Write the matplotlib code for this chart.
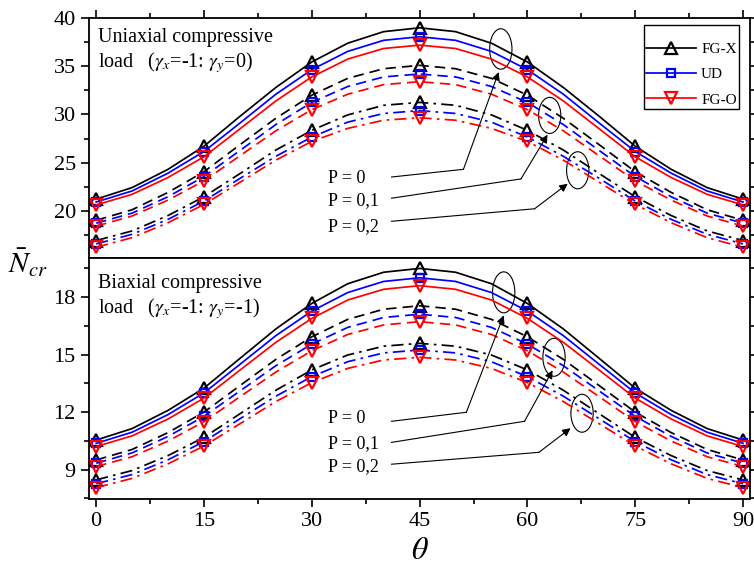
import numpy as np
import matplotlib
matplotlib.use('Agg')
import matplotlib.pyplot as plt
from matplotlib.patches import Ellipse
from matplotlib.ticker import MultipleLocator

plt.rcParams['font.family'] = ['Liberation Serif', 'DejaVu Serif']
plt.rcParams['mathtext.fontset'] = 'stix'

# %% data
theta = [0, 5, 10, 15, 20, 25, 30, 35, 40, 45, 50, 55, 60, 65, 70, 75, 80, 85, 90]

# uniaxial (gamma_x=-1, gamma_y=0)
ux_fgx_p0 = [21.2, 22.4, 24.3, 26.7, 29.8, 32.8, 35.45, 37.4, 38.6, 39.0, 38.6, 37.4, 35.45, 32.8, 29.8, 26.7, 24.3, 22.4, 21.2]
ux_ud_p0 = [20.9, 22.05, 23.9, 26.15, 29.1, 32.1, 34.65, 36.55, 37.7, 38.07, 37.7, 36.55, 34.65, 32.1, 29.1, 26.15, 23.9, 22.05, 20.9]
ux_fgo_p0 = [20.6, 21.7, 23.45, 25.6, 28.5, 31.4, 33.9, 35.75, 36.85, 37.2, 36.85, 35.75, 33.9, 31.4, 28.5, 25.6, 23.45, 21.7, 20.6]
ux_fgx_p1 = [19.0, 20.1, 21.9, 24.05, 26.85, 29.6, 32.0, 33.75, 34.75, 35.1, 34.75, 33.75, 32.0, 29.6, 26.85, 24.05, 21.9, 20.1, 19.0]
ux_ud_p1 = [18.7, 19.75, 21.45, 23.55, 26.25, 28.95, 31.25, 32.9, 33.9, 34.2, 33.9, 32.9, 31.25, 28.95, 26.25, 23.55, 21.45, 19.75, 18.7]
ux_fgo_p1 = [18.4, 19.45, 21.1, 23.1, 25.7, 28.3, 30.5, 32.1, 33.1, 33.4, 33.1, 32.1, 30.5, 28.3, 25.7, 23.1, 21.1, 19.45, 18.4]
ux_fgx_p2 = [16.9, 17.9, 19.5, 21.45, 23.85, 26.3, 28.35, 29.95, 30.95, 31.25, 30.95, 29.95, 28.35, 26.3, 23.85, 21.45, 19.5, 17.9, 16.9]
ux_ud_p2 = [16.55, 17.55, 19.1, 21.0, 23.35, 25.65, 27.65, 29.2, 30.1, 30.4, 30.1, 29.2, 27.65, 25.65, 23.35, 21.0, 19.1, 17.55, 16.55]
ux_fgo_p2 = [16.2, 17.2, 18.75, 20.65, 22.95, 25.25, 27.2, 28.55, 29.4, 29.65, 29.4, 28.55, 27.2, 25.25, 22.95, 20.65, 18.75, 17.2, 16.2]

# biaxial (gamma_x=-1, gamma_y=-1)
bx_fgx_p0 = [10.54, 11.14, 12.09, 13.25, 14.8, 16.34, 17.67, 18.7, 19.3, 19.5, 19.3, 18.7, 17.67, 16.34, 14.8, 13.25, 12.09, 11.14, 10.54]
bx_ud_p0 = [10.37, 10.95, 11.87, 13.0, 14.49, 15.99, 17.27, 18.24, 18.82, 19.01, 18.82, 18.24, 17.27, 15.99, 14.49, 13.0, 11.87, 10.95, 10.37]
bx_fgo_p0 = [10.2, 10.76, 11.64, 12.73, 14.19, 15.64, 16.89, 17.85, 18.41, 18.6, 18.41, 17.85, 16.89, 15.64, 14.19, 12.73, 11.64, 10.76, 10.2]
bx_fgx_p1 = [9.5, 10.05, 10.93, 12.0, 13.38, 14.75, 15.93, 16.84, 17.37, 17.55, 17.37, 16.84, 15.93, 14.75, 13.38, 12.0, 10.93, 10.05, 9.5]
bx_ud_p1 = [9.33, 9.87, 10.73, 11.78, 13.1, 14.42, 15.55, 16.42, 16.94, 17.11, 16.94, 16.42, 15.55, 14.42, 13.1, 11.78, 10.73, 9.87, 9.33]
bx_fgo_p1 = [9.16, 9.67, 10.49, 11.5, 12.8, 14.09, 15.2, 16.05, 16.55, 16.72, 16.55, 16.05, 15.2, 14.09, 12.8, 11.5, 10.49, 9.67, 9.16]
bx_fgx_p2 = [8.46, 8.95, 9.73, 10.68, 11.91, 13.14, 14.2, 14.98, 15.44, 15.59, 15.44, 14.98, 14.2, 13.14, 11.91, 10.68, 9.73, 8.95, 8.46]
bx_ud_p2 = [8.26, 8.74, 9.51, 10.46, 11.65, 12.83, 13.85, 14.63, 15.09, 15.24, 15.09, 14.63, 13.85, 12.83, 11.65, 10.46, 9.51, 8.74, 8.26]
bx_fgo_p2 = [8.06, 8.54, 9.3, 10.23, 11.39, 12.55, 13.54, 14.28, 14.72, 14.86, 14.72, 14.28, 13.54, 12.55, 11.39, 10.23, 9.3, 8.54, 8.06]

labels = ['FG-X', 'UD', 'FG-O']
p_labels = ['P = 0', 'P = 0,1', 'P = 0,2']

# %% styles
colors = ['black', '#0000ff', '#ff0000']
markers = ['^', 's', 'v']
msizes = [8, 5.5, 8]
lstyles = ['-', (0, (6, 3.5)), (0, (7, 3, 1.5, 3))]

fig = plt.figure(figsize=(7.54, 5.68), dpi=100)
ax1 = fig.add_axes([0.118, 0.546, 0.877, 0.422])
ax2 = fig.add_axes([0.118, 0.121, 0.877, 0.425])

top = [[ux_fgx_p0, ux_ud_p0, ux_fgo_p0],
       [ux_fgx_p1, ux_ud_p1, ux_fgo_p1],
       [ux_fgx_p2, ux_ud_p2, ux_fgo_p2]]
bot = [[bx_fgx_p0, bx_ud_p0, bx_fgo_p0],
       [bx_fgx_p1, bx_ud_p1, bx_fgo_p1],
       [bx_fgx_p2, bx_ud_p2, bx_fgo_p2]]

for ax, groups in [(ax1, top), (ax2, bot)]:
    for k, grp in enumerate(groups):
        for j, vals in enumerate(grp):
            ax.plot(theta, vals, color=colors[j], ls=lstyles[k], lw=1.25,
                    marker=markers[j], ms=msizes[j], mfc='none', mew=1.6,
                    markevery=3, label=labels[j] if k == 0 else '_nolegend_')

# %% axes formatting
ax1.set_xlim(-1, 91)
ax2.set_xlim(-1, 91)
ax1.set_ylim(15.1, 40)
ax2.set_ylim(7.45, 20.05)
ax1.yaxis.set_major_locator(MultipleLocator(5))
ax1.yaxis.set_minor_locator(MultipleLocator(2.5))
ax2.yaxis.set_major_locator(MultipleLocator(3))
ax2.yaxis.set_minor_locator(MultipleLocator(1.5))
for ax in (ax1, ax2):
    ax.xaxis.set_major_locator(MultipleLocator(15))
    ax.xaxis.set_minor_locator(MultipleLocator(7.5))
    for s in ax.spines.values():
        s.set_linewidth(1.3)
    ax.tick_params(which='both', direction='out', labelsize=16, width=1.2)
    ax.tick_params(which='major', length=6)
    ax.tick_params(which='minor', length=3.5)

ax1.tick_params(which='both', top=True, right=True, bottom=False,
                labelbottom=False, labelright=False)
ax2.tick_params(which='both', top=False, right=True, bottom=True,
                labelright=False)

ax2.set_xlabel(r'$\theta$', fontsize=23, labelpad=4)
fig.text(0.037, 0.538, r'$\bar{N}_{cr}$', fontsize=21, ha='center', va='center')

# panel titles
ax1.text(0.014, 0.96, 'Uniaxial compressive', transform=ax1.transAxes,
         fontsize=14.5, va='top')
ax1.text(0.014, 0.865, r'load   ($\gamma_x$=-1: $\gamma_y$=0)',
         transform=ax1.transAxes, fontsize=14.5, va='top')
ax2.text(0.014, 0.935, 'Biaxial compressive', transform=ax2.transAxes,
         fontsize=14.5, va='top')
ax2.text(0.014, 0.84, r'load   ($\gamma_x$=-1: $\gamma_y$=-1)',
         transform=ax2.transAxes, fontsize=14.5, va='top')

leg = ax1.legend(loc='upper right', bbox_to_anchor=(0.983, 0.972), fontsize=11,
                 title=' ', title_fontsize=3,
                 handlelength=3.3, handletextpad=0.3, labelspacing=0.75,
                 borderpad=0.15, borderaxespad=0,
                 fancybox=False, edgecolor='black', framealpha=1)
leg.get_frame().set_linewidth(1.0)

# %% annotations: text pos, line start, bend, arrow tip, ellipse center / size
ann_top = {'text_y': [23.3, 21.0, 18.4],
           'start': [(41.1, 23.5), (41.1, 21.3), (41.1, 18.9)],
           'bend': [(51.1, 24.3), (59.1, 23.3), (61.0, 20.2)],
           'tip': [(56.0, 34.4), (62.8, 27.9), (65.6, 22.8)],
           'ell': [(56.3, 36.8, 4.2), (63.1, 29.9, 3.75), (67.0, 24.2, 3.85)]}
ann_bot = {'text_y': [11.68, 10.37, 9.15],
           'start': [(41.1, 11.52), (41.1, 10.42), (41.1, 9.28)],
           'bend': [(51.5, 11.99), (59.6, 11.52), (61.6, 9.9)],
           'tip': [(56.7, 17.05), (63.5, 14.18), (66.0, 11.16)],
           'ell': [(56.7, 18.25, 2.14), (63.7, 14.86, 1.98), (67.6, 11.94, 1.98)]}

for ax, an in [(ax1, ann_top), (ax2, ann_bot)]:
    for i in range(3):
        ax.text(32.2, an['text_y'][i], p_labels[i], fontsize=13, va='center')
        (x0, y0), (x1, y1) = an['start'][i], an['bend'][i]
        ax.plot([x0, x1], [y0, y1], color='k', lw=0.8)
        ax.annotate('', xy=an['tip'][i], xytext=(x1, y1),
                    arrowprops=dict(arrowstyle='-|>', color='k', lw=0.8,
                                    mutation_scale=12, shrinkA=0, shrinkB=0))
        ex, ey, eh = an['ell'][i]
        ax.add_patch(Ellipse((ex, ey), 3.1, eh, fill=False, ec='k', lw=0.8))

plt.savefig('out.png', dpi=100)
